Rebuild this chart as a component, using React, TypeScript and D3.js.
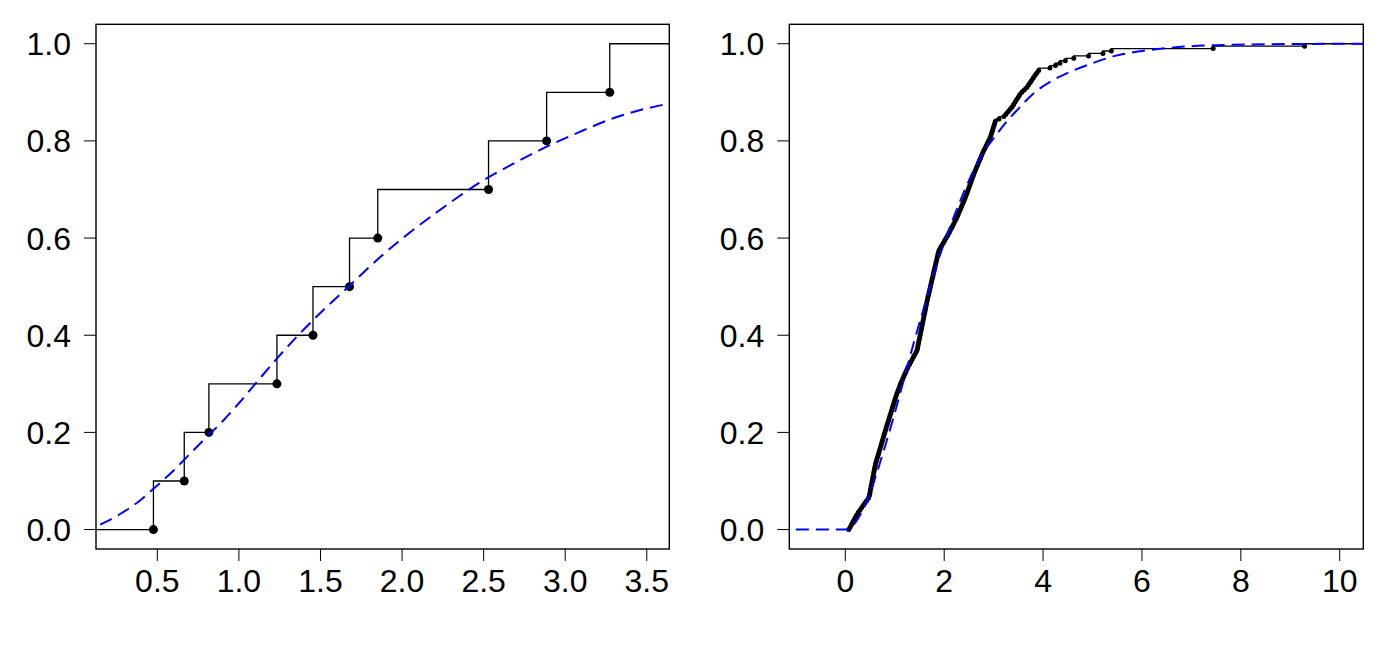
import React from "react";
import * as d3 from "d3";

// ---------- data ----------
const leftSample = [0.476, 0.665, 0.816, 1.233, 1.454, 1.678, 1.851, 2.53, 2.886, 3.273];

const leftFitX = [0.15, 0.272, 0.394, 0.476, 0.598, 0.68, 0.78, 0.903, 1.005, 1.108, 1.23, 1.372, 1.515, 1.678, 1.87, 2.065, 2.27, 2.47, 2.676, 2.88, 3.085, 3.29, 3.49, 3.638];
const leftFitY = [0.010, 0.032, 0.06, 0.084, 0.121, 0.149, 0.183, 0.224, 0.262, 0.303, 0.351, 0.403, 0.451, 0.502, 0.562, 0.616, 0.667, 0.713, 0.752, 0.787, 0.818, 0.846, 0.866, 0.877];

const rightSample = [
  0.07, 0.097, 0.123, 0.15, 0.176, 0.203, 0.23, 0.261, 0.296, 0.33,
  0.365, 0.40, 0.435, 0.47, 0.487, 0.496, 0.505, 0.515, 0.524, 0.534,
  0.543, 0.553, 0.562, 0.572, 0.581, 0.591, 0.601, 0.61, 0.625, 0.639,
  0.654, 0.669, 0.684, 0.698, 0.713, 0.727, 0.741, 0.756, 0.77, 0.784,
  0.799, 0.813, 0.828, 0.844, 0.859, 0.875, 0.89, 0.905, 0.921, 0.936,
  0.951, 0.966, 0.981, 0.996, 1.01, 1.027, 1.045, 1.063, 1.081, 1.099,
  1.117, 1.139, 1.161, 1.182, 1.204, 1.226, 1.248, 1.27, 1.297, 1.324,
  1.351, 1.378, 1.404, 1.431, 1.453, 1.463, 1.473, 1.483, 1.493, 1.503,
  1.513, 1.523, 1.533, 1.543, 1.553, 1.563, 1.573, 1.583, 1.593, 1.603,
  1.613, 1.623, 1.633, 1.643, 1.653, 1.664, 1.675, 1.687, 1.698, 1.71,
  1.721, 1.732, 1.744, 1.755, 1.767, 1.778, 1.789, 1.801, 1.812, 1.824,
  1.835, 1.847, 1.858, 1.869, 1.881, 1.896, 1.924, 1.953, 1.982, 2.01,
  2.039, 2.067, 2.095, 2.12, 2.145, 2.17, 2.195, 2.22, 2.245, 2.268,
  2.289, 2.31, 2.33, 2.351, 2.372, 2.392, 2.413, 2.434, 2.451, 2.469,
  2.487, 2.504, 2.522, 2.54, 2.557, 2.575, 2.593, 2.612, 2.633, 2.653,
  2.674, 2.694, 2.715, 2.735, 2.756, 2.777, 2.801, 2.825, 2.849, 2.873,
  2.897, 2.921, 2.941, 2.957, 2.972, 2.987, 3.003, 3.018, 3.033, 3.109,
  3.208, 3.25, 3.291, 3.333, 3.373, 3.404, 3.435, 3.466, 3.497, 3.528,
  3.57, 3.62, 3.67, 3.706, 3.739, 3.771, 3.804, 3.839, 3.874, 3.91,
  4.14, 4.25, 4.34, 4.45, 4.62, 4.92, 5.21, 5.38, 7.44, 9.29,
];

const rightFitX = [-1, 0, 0.1, 0.2, 0.3, 0.4, 0.5, 0.6, 0.8, 1.0, 1.2, 1.4, 1.6, 1.8, 2.0, 2.2, 2.4, 2.6, 2.8, 3.0, 3.2, 3.5, 3.8, 4.2, 4.5, 5.0, 5.5, 6.0, 6.5, 7.0, 7.5, 8.5, 10.48];
const rightFitY = [0, 0, 0.004, 0.014, 0.03, 0.05, 0.075, 0.105, 0.17, 0.24, 0.315, 0.39, 0.46, 0.53, 0.59, 0.645, 0.695, 0.74, 0.778, 0.805, 0.832, 0.866, 0.897, 0.925, 0.94, 0.96, 0.976, 0.985, 0.991, 0.995, 0.997, 0.999, 1.0];

const leftXTicks = [0.5, 1.0, 1.5, 2.0, 2.5, 3.0, 3.5];
const rightXTicks = [0, 2, 4, 6, 8, 10];
const yTicks = [0, 0.2, 0.4, 0.6, 0.8, 1.0];

// ---------- layout ----------
const W = 1387;
const H = 645;
const TOP = 24.3;
const BOTTOM = 549;
const FONT = "'Liberation Sans', Arial, sans-serif";

type PanelProps = {
  x0: number;
  x1: number;
  domain: [number, number];
  sample: number[];
  fitX: number[];
  fitY: number[];
  xTicks: number[];
  xFmt: (v: number) => string;
  dotR: number;
  extendLeft: boolean;
};

function Panel(p: PanelProps) {
  const x = d3.scaleLinear().domain(p.domain).range([p.x0, p.x1]);
  const y = d3.scaleLinear().domain([-0.04, 1.04]).range([BOTTOM, TOP]);
  const n = p.sample.length;
  const sorted = [...p.sample].sort((a, b) => a - b);

  const stepPts: [number, number][] = [];
  if (p.extendLeft) stepPts.push([p.domain[0], 0]);
  else stepPts.push([sorted[0], 0]);
  sorted.forEach((v, i) => stepPts.push([v, (i + 1) / n]));
  stepPts.push([p.domain[1], 1]);

  const stepLine = d3
    .line<[number, number]>()
    .x((d) => x(d[0]))
    .y((d) => y(d[1]))
    .curve(d3.curveStepAfter);

  const fitPts: [number, number][] = p.fitX.map((v, i) => [v, p.fitY[i]]);
  const fitLine = d3
    .line<[number, number]>()
    .x((d) => x(d[0]))
    .y((d) => y(d[1]))
    .curve(d3.curveMonotoneX);

  const yF = d3.format(".1f");

  return (
    <g>
      <path d={stepLine(stepPts) || ""} fill="none" stroke="#000" strokeWidth={1.3} />
      {sorted.map((v, i) => (
        <circle key={i} cx={x(v)} cy={y(i / n)} r={p.dotR} fill="#000" />
      ))}
      <path
        d={fitLine(fitPts) || ""}
        fill="none"
        stroke="#0000ff"
        strokeWidth={2}
        strokeDasharray="13,7"
      />
      <rect
        x={p.x0}
        y={TOP}
        width={p.x1 - p.x0}
        height={BOTTOM - TOP}
        fill="none"
        stroke="#000"
        strokeWidth={1.4}
      />
      {p.xTicks.map((t) => (
        <g key={"x" + t}>
          <line x1={x(t)} x2={x(t)} y1={BOTTOM} y2={BOTTOM + 12} stroke="#000" strokeWidth={1} />
          <text
            x={x(t)}
            y={592}
            textAnchor="middle"
            fontFamily={FONT}
            fontSize={32}
            fill="#000"
          >
            {p.xFmt(t)}
          </text>
        </g>
      ))}
      {yTicks.map((t) => (
        <g key={"y" + t}>
          <line x1={p.x0 - 12} x2={p.x0} y1={y(t)} y2={y(t)} stroke="#000" strokeWidth={1} />
          <text
            x={p.x0 - 25}
            y={y(t)}
            dy="0.36em"
            textAnchor="end"
            fontFamily={FONT}
            fontSize={32}
            fill="#000"
          >
            {yF(t)}
          </text>
        </g>
      ))}
    </g>
  );
}

export default function App() {
  const f1 = d3.format(".1f");
  const f0 = d3.format("d");
  return (
    <svg
      width={W}
      height={H}
      style={{ position: "absolute", left: 0, top: 0, background: "#fff" }}
    >
      <rect x={0} y={0} width={W} height={H} fill="#fff" />
      <Panel
        x0={96}
        x1={669.3}
        domain={[0.124, 3.638]}
        sample={leftSample}
        fitX={leftFitX}
        fitY={leftFitY}
        xTicks={leftXTicks}
        xFmt={f1}
        dotR={4.5}
        extendLeft={true}
      />
      <Panel
        x0={789.3}
        x1={1363.3}
        domain={[-1.133, 10.477]}
        sample={rightSample}
        fitX={rightFitX}
        fitY={rightFitY}
        xTicks={rightXTicks}
        xFmt={f0}
        dotR={2.5}
        extendLeft={false}
      />
    </svg>
  );
}
